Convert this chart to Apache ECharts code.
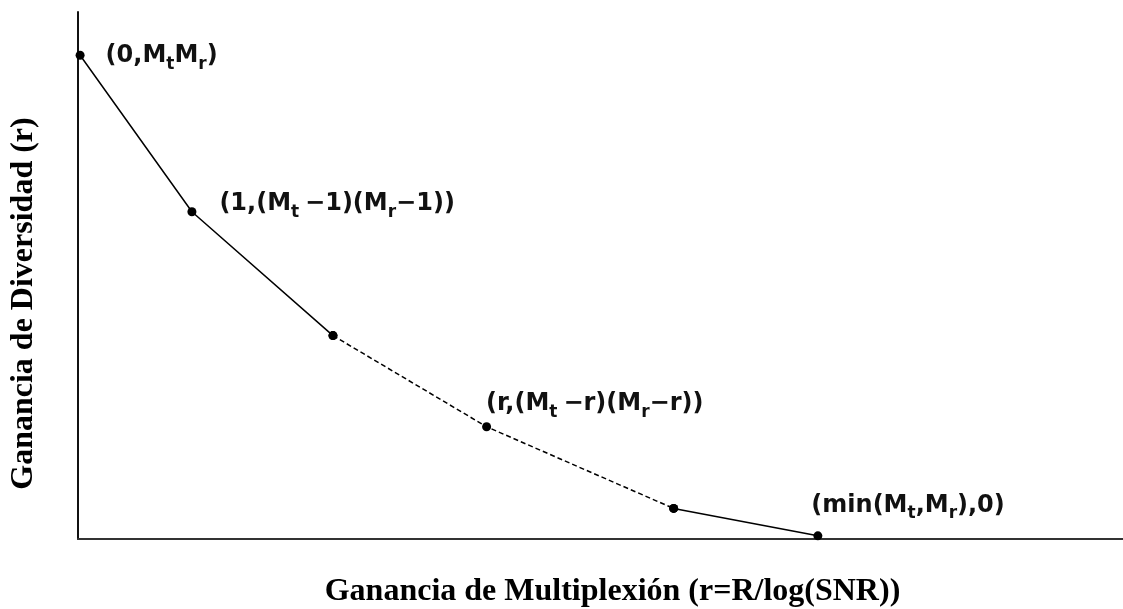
<!DOCTYPE html>
<html>
<head>
<meta charset="utf-8">
<script src="https://cdn.jsdelivr.net/npm/echarts@6/dist/echarts.min.js"></script>
<style>html,body{margin:0;padding:0;background:#fff}#c{width:1123px;height:609px}</style>
</head>
<body>
<div id="c"></div>
<script>
// Data (arbitrary units, axes have no ticks)
const xVals = [0.02, 1.09, 2.44, 3.91, 5.70, 7.08];
const yVals = [9.18, 6.21, 3.86, 2.13, 0.58, 0.06];
// segments: indexes of points in each segment
const solidA = [0, 1, 2];
const dashed = [2, 3, 4];
const solidB = [4, 5];
const xTitle = 'Ganancia de Multiplexión (r=R/log(SNR))';
const yTitle = 'Ganancia de Diversidad (r)';
// point labels in rich-text form: {b|...} normal, {s|...} subscript
const pointLabels = [
  '{b|(0,M}{s|t}{b|M}{s|r}{b|)}',
  '{b|(1,(M}{s|t }{b|−1)(M}{s|r}{b|−1))}',
  null,
  '{b|(r,(M}{s|t }{b|−r)(M}{s|r}{b|−r))}',
  null,
  '{b|(min(M}{s|t}{b|,M}{s|r}{b|),0)}'
];
const labelOffsets = [[30, 8], [32, 0], null, [4, -15], null, [-2, -23]];

const rich = {
  b: {fontFamily: 'DejaVu Sans', fontWeight: 'bold', fontSize: 24, color: '#111', lineHeight: 30, verticalAlign: 'top'},
  s: {fontFamily: 'DejaVu Sans', fontWeight: 'bold', fontSize: 17, color: '#111', lineHeight: 17, verticalAlign: 'top', padding: [12, 0, 0, 0]}
};

function seg(idx, labelIdx) {
  return idx.map(i => {
    const d = {value: [xVals[i], yVals[i]]};
    if (labelIdx.indexOf(i) >= 0 && pointLabels[i]) {
      d.label = {show: true, formatter: pointLabels[i], position: labelOffsets[i], align: 'left', verticalAlign: 'middle', rich: rich};
    }
    return d;
  });
}
const lineBase = {type: 'line', symbol: 'circle', symbolSize: 9, itemStyle: {color: '#000'}, animation: false, silent: true};

const chart = echarts.init(document.getElementById('c'));
chart.setOption({
  backgroundColor: '#fff',
  grid: {left: 78, right: 0, top: 12, bottom: 70, containLabel: false, outerBoundsMode: 'none'},
  xAxis: {
    type: 'value', min: 0, max: 10,
    axisLine: {show: true, lineStyle: {color: '#333', width: 2}},
    axisTick: {show: false}, axisLabel: {show: false}, splitLine: {show: false},
    name: xTitle, nameLocation: 'middle', nameGap: 37,
    nameTextStyle: {fontFamily: 'Liberation Serif', fontWeight: 'bold', fontSize: 32, color: '#000', padding: [0, 0, 0, 24]}
  },
  yAxis: {
    type: 'value', min: 0, max: 10,
    axisLine: {show: true, lineStyle: {color: '#111', width: 2}},
    axisTick: {show: false}, axisLabel: {show: false}, splitLine: {show: false},
    name: yTitle, nameLocation: 'middle', nameGap: 38,
    nameTextStyle: {fontFamily: 'Liberation Serif', fontWeight: 'bold', fontSize: 32, color: '#000', padding: [0, 56, 0, 0]}
  },
  series: [
    Object.assign({}, lineBase, {data: seg(solidA, [0, 1]), lineStyle: {color: '#000', width: 1.5, type: 'solid'}}),
    Object.assign({}, lineBase, {data: seg(dashed, [3]), lineStyle: {color: '#000', width: 1.5, type: [5, 3]}}),
    Object.assign({}, lineBase, {data: seg(solidB, [5]), lineStyle: {color: '#000', width: 1.5, type: 'solid'}})
  ]
});
</script>
</body>
</html>
